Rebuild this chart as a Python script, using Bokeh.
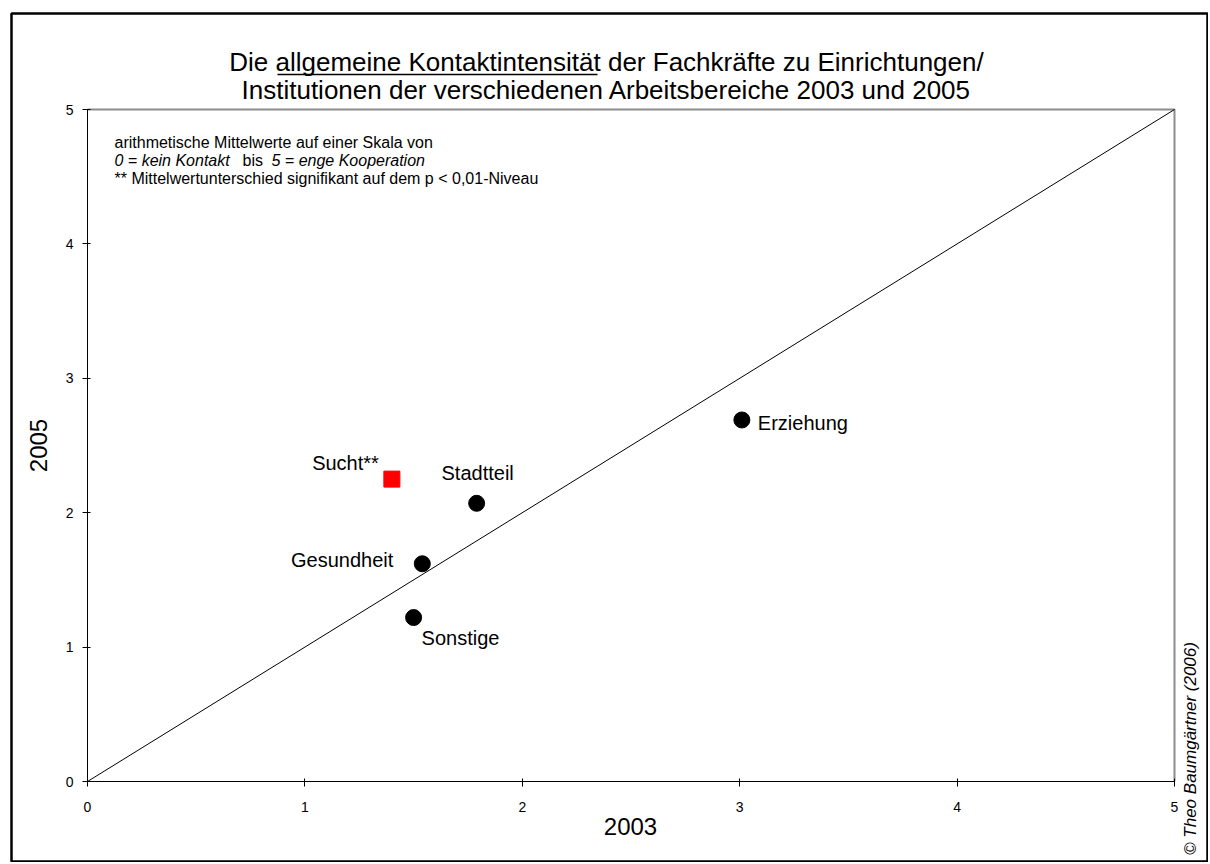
from bokeh.plotting import figure
from bokeh.models import Label, FixedTicker, Range1d
from bokeh.embed import file_html
from bokeh.resources import INLINE
import math

# ---------------- data ----------------
categories = ["Sucht**", "Stadtteil", "Gesundheit", "Sonstige", "Erziehung"]
x_2003 = [1.40, 1.79, 1.54, 1.50, 3.01]
y_2005 = [2.25, 2.07, 1.62, 1.22, 2.69]
significant = [True, False, False, False, False]
ticks = [0, 1, 2, 3, 4, 5]
diag_x = [0, 5]
diag_y = [0, 5]

title_line1 = "Die allgemeine Kontaktintensität der Fachkräfte zu Einrichtungen/"
title_line2 = "Institutionen der verschiedenen Arbeitsbereiche 2003 und 2005"
x_title = "2003"
y_title = "2005"
note1 = "arithmetische Mittelwerte auf einer Skala von"
note2a = "0 = kein Kontakt"
note2b = "bis"
note2c = "5 = enge Kooperation"
note3 = "** Mittelwertunterschied signifikant auf dem p < 0,01-Niveau"
copyright_text = "© Theo Baumgärtner (2006)"

# label placement (screen px offsets, y up) and alignment
label_dx = [-13, 1, -29, 8, 16]
label_dy = [16, 30, 4, -20, -3]
label_align = ["right", "center", "right", "left", "left"]

# ---------------- layout helpers ----------------
W, H = 1208, 862
FL, FT = 11, 13        # frame left / top in canvas px
X0, XU = 87.0, 217.4   # canvas x of value 0, px per unit
Y0, YU = 781.0, 134.4  # canvas y of value 0, px per unit


def dx(px):
    return (px - X0) / XU


def dy(py):
    return (Y0 - py) / YU


FONT = "Liberation Sans"

p = figure(width=W, height=H,
           x_range=Range1d(dx(FL), dx(W)),
           y_range=Range1d(dy(H), dy(FT)),
           output_backend="svg", toolbar_location=None,
           min_border_left=FL, min_border_top=FT,
           min_border_right=0, min_border_bottom=0)
p.grid.visible = False
p.outline_line_color = "black"
p.outline_line_width = 2.5
p.background_fill_color = "white"
p.border_fill_color = "white"

for ax in (p.xaxis[0], p.yaxis[0]):
    ax.fixed_location = 0
    ax.bounds = (0, 5)
    ax.ticker = FixedTicker(ticks=ticks)
    ax.minor_tick_line_color = None
    ax.major_tick_in = 3
    ax.major_tick_out = 5
    ax.axis_line_color = "black"
    ax.major_tick_line_color = "black"
    ax.major_label_text_font = FONT
    ax.major_label_text_font_size = "14px"
    ax.major_label_text_color = "black"
p.xaxis.major_label_standoff = 15
p.yaxis.major_label_standoff = 9

# plot-area top/right border (grey)
p.line([ticks[0], ticks[-1], ticks[-1]], [ticks[-1], ticks[-1], ticks[0]],
       line_color="#8c8c8c", line_width=2)

# diagonal reference line
p.line(diag_x, diag_y, line_color="black", line_width=1)

# points
cx = [x for x, s in zip(x_2003, significant) if not s]
cy = [y for y, s in zip(y_2005, significant) if not s]
sx = [x for x, s in zip(x_2003, significant) if s]
sy = [y for y, s in zip(y_2005, significant) if s]
p.scatter(cx, cy, marker="circle", size=16, fill_color="black", line_color="black")
p.scatter(sx, sy, marker="square", size=16, fill_color="#ff0000", line_color="#ff0000")

# data labels
for name, x, y, ox, oy, al in zip(categories, x_2003, y_2005, label_dx, label_dy, label_align):
    p.add_layout(Label(x=x, y=y, text=name, x_offset=ox, y_offset=oy,
                       text_align=al, text_baseline="middle",
                       text_font=FONT, text_font_size="20px", text_color="black"))

# title
p.add_layout(Label(x=dx(606), y=dy(61), text=title_line1, text_align="center",
                   text_baseline="middle", text_font=FONT, text_font_size="26px",
                   text_color="black"))
p.add_layout(Label(x=dx(606), y=dy(89), text=title_line2, text_align="center",
                   text_baseline="middle", text_font=FONT, text_font_size="26px",
                   text_color="black"))
# underline of "allgemeine Kontaktintensität"
p.line([dx(277), dx(597)], [dy(74), dy(74)], line_color="black", line_width=1.5)

# axis titles
p.add_layout(Label(x=dx(630), y=dy(826), text=x_title, text_align="center",
                   text_baseline="middle", text_font=FONT, text_font_size="24px",
                   text_color="black"))
p.add_layout(Label(x=dx(38), y=dy(445), text=y_title, text_align="center",
                   text_baseline="middle", angle=math.pi / 2,
                   text_font=FONT, text_font_size="24px", text_color="black"))

# note
nf = "16px"
p.add_layout(Label(x=dx(114), y=dy(142), text=note1, text_align="left",
                   text_baseline="middle", text_font=FONT, text_font_size=nf,
                   text_color="black"))
p.add_layout(Label(x=dx(114), y=dy(160), text=note2a, text_align="left",
                   text_baseline="middle", text_font=FONT, text_font_size=nf,
                   text_font_style="italic", text_color="black"))
p.add_layout(Label(x=dx(242), y=dy(160), text=note2b, text_align="left",
                   text_baseline="middle", text_font=FONT, text_font_size=nf,
                   text_color="black"))
p.add_layout(Label(x=dx(271), y=dy(160), text=note2c, text_align="left",
                   text_baseline="middle", text_font=FONT, text_font_size=nf,
                   text_font_style="italic", text_color="black"))
p.add_layout(Label(x=dx(114), y=dy(178), text=note3, text_align="left",
                   text_baseline="middle", text_font=FONT, text_font_size=nf,
                   text_color="black"))

# copyright
p.add_layout(Label(x=dx(1190), y=dy(748), text=copyright_text, text_align="center",
                   text_baseline="middle", angle=math.pi / 2,
                   text_font=FONT, text_font_size="17px", text_font_style="italic",
                   text_color="black"))

open("out.html", "w").write(file_html(p, INLINE))
